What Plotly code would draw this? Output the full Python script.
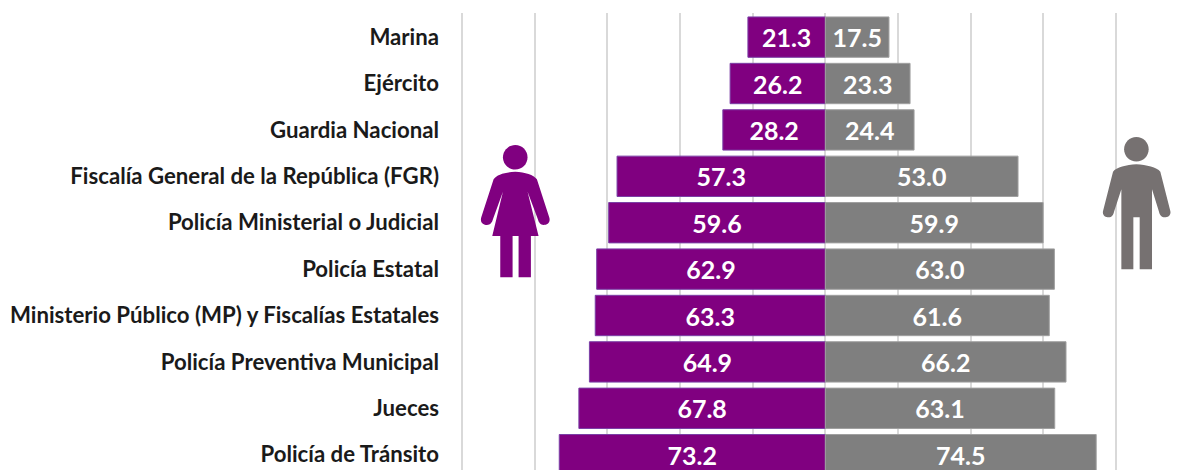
import plotly.graph_objects as go

WIDTH, HEIGHT = 1178, 470
M_L, M_R, M_T, M_B = 459.7, 59.7, 13, 0

categories = ["Marina", "Ejército", "Guardia Nacional", "Fiscalía General de la República (FGR)",
              "Policía Ministerial o Judicial", "Policía Estatal",
              "Ministerio Público (MP) y Fiscalías Estatales", "Policía Preventiva Municipal",
              "Jueces", "Policía de Tránsito"]
women = [21.3, 26.2, 28.2, 57.3, 59.6, 62.9, 63.3, 64.9, 67.8, 73.2]
men = [17.5, 23.3, 24.4, 53.0, 59.9, 63.0, 61.6, 66.2, 63.1, 74.5]

PURPLE = "#800080"
GREY = "#7F7F7F"
ICON_GREY = "#767171"
GRID = "#D9D9D9"


def px(x, y):
    # page pixels -> paper fractions of the plot area
    fx = (x - M_L) / (WIDTH - M_L - M_R)
    fy = 1 - (y - M_T) / (HEIGHT - M_T - M_B)
    return f"{fx:.5f},{fy:.5f}"


def circle(cx, cy, r):
    k = 0.5523 * r
    return (f"M{px(cx + r, cy)} C{px(cx + r, cy + k)} {px(cx + k, cy + r)} {px(cx, cy + r)} "
            f"C{px(cx - k, cy + r)} {px(cx - r, cy + k)} {px(cx - r, cy)} "
            f"C{px(cx - r, cy - k)} {px(cx - k, cy - r)} {px(cx, cy - r)} "
            f"C{px(cx + k, cy - r)} {px(cx + r, cy - k)} {px(cx + r, cy)} Z")


def figure_path(ox, oy, segs):
    out = []
    for i, s in enumerate(segs):
        if len(s) == 2:
            out.append(("M" if i == 0 else "L") + px(ox + s[0] / 3, oy + s[1] / 3))
        else:
            pts = " ".join(px(ox + s[j] / 3, oy + s[j + 1] / 3) for j in range(0, 6, 2))
            out.append("C" + pts)
    return " ".join(out) + " Z"


woman_body = [(135, 125), (105, 127, 80, 133, 70, 148), (33, 262),
              (28, 278, 40, 285, 50, 285), (60, 285, 66, 277, 68, 268), (98, 185), (66, 318),
              (90, 318), (90, 442), (127, 442), (127, 318), (145, 318), (145, 442), (182, 442),
              (182, 318), (205, 318), (172, 185), (203, 268), (205, 277, 211, 285, 220, 285),
              (231, 285, 242, 278, 237, 262), (200, 148), (190, 133, 165, 127, 135, 125)]
man_body = [(140, 103), (110, 105, 80, 112, 70, 125), (40, 243),
            (37, 255, 47, 262, 57, 262), (66, 262, 71, 255, 73, 245), (95, 178), (95, 418),
            (131, 418), (131, 262), (150, 262), (150, 418), (187, 418), (187, 178), (208, 245),
            (210, 255, 216, 262, 225, 262), (235, 262, 245, 255, 242, 243), (212, 125),
            (202, 112, 170, 105, 140, 103)]

shapes = []
for color, path in [
    (PURPLE, circle(515, 157.3, 12.3)),
    (PURPLE, figure_path(470, 130, woman_body)),
    (ICON_GREY, circle(1136.7, 149.3, 12.3)),
    (ICON_GREY, figure_path(1090, 130, man_body)),
]:
    shapes.append(dict(type="path", xref="paper", yref="paper", path=path,
                       fillcolor=color, line=dict(width=0), layer="above"))

fig = go.Figure()
fig.add_bar(y=categories, x=[-v for v in women], orientation="h", name="Mujeres",
            marker=dict(color=PURPLE, line=dict(color="#7B3FA6", width=1)),
            text=[f"{v:.1f}" for v in women], textposition="inside", insidetextanchor="middle",
            textangle=0, constraintext="none",
            textfont=dict(family="Lato", size=25, color="white", weight="bold"))
fig.add_bar(y=categories, x=men, orientation="h", name="Hombres",
            marker=dict(color=GREY, line=dict(color="#A0A0A0", width=1)),
            text=[f"{v:.1f}" for v in men], textposition="inside", insidetextanchor="middle",
            textangle=0, constraintext="none",
            textfont=dict(family="Lato", size=25, color="white", weight="bold"))

fig.update_layout(
    width=WIDTH, height=HEIGHT, autosize=False,
    margin=dict(l=M_L, r=M_R, t=M_T, b=M_B, pad=0),
    barmode="overlay", bargap=0.13, showlegend=False,
    paper_bgcolor="white", plot_bgcolor="white",
    font=dict(family="Lato", color="#1A1A1A"),
    shapes=shapes,
    xaxis=dict(range=[-100.5, 80.5], tickmode="linear", tick0=-100, dtick=20,
               showticklabels=False, showgrid=True, gridcolor=GRID, gridwidth=1.5,
               zeroline=True, zerolinecolor=GRID, zerolinewidth=1.5, showline=False, ticks=""),
    yaxis=dict(type="category", categoryorder="array", categoryarray=categories,
               range=[9.33, -0.52], showgrid=False, zeroline=False, showline=False, ticks="",
               ticklabelstandoff=20,
               tickfont=dict(family="Lato", size=22.2, color="#1A1A1A", weight="bold")),
)

fig.write_html("out.html", config={"displayModeBar": False},
               post_script="document.body.style.margin='0';")
